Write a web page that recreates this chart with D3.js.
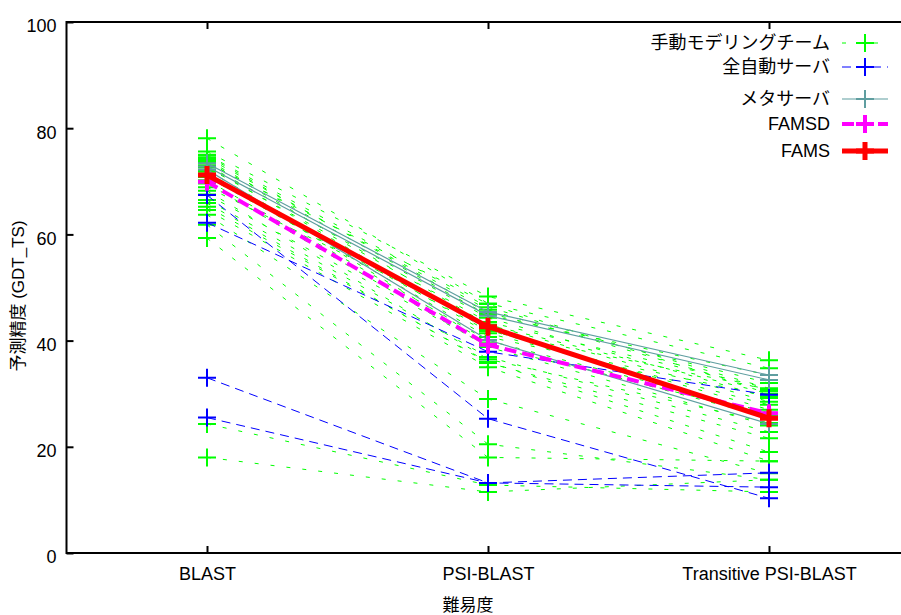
<!DOCTYPE html>
<html>
<head>
<meta charset="utf-8">
<script src="https://cdn.jsdelivr.net/npm/d3@7"></script>
<style>
  body { margin: 0; background: #fff; }
  text { font-family: "Liberation Sans", Arial, "Noto Sans CJK JP", sans-serif; }
</style>
</head>
<body>
<div id="graph"></div>
<script>
// categories on the x axis
var categories = ["BLAST", "PSI-BLAST", "Transitive PSI-BLAST"];
var yTicks = [0, 20, 40, 60, 80, 100];

// GDT_TS per group, one row = [BLAST, PSI-BLAST, Transitive]
var manualTeams = [
  [78.1, 47.0, 34.8],
  [75.6, 48.3, 36.3],
  [75.0, 46.3, 31.0],
  [74.8, 45.2, 32.0],
  [74.4, 45.8, 30.5],
  [74.0, 44.8, 33.5],
  [73.8, 43.0, 28.5],
  [73.5, 46.9, 30.0],
  [73.0, 44.3, 29.2],
  [72.9, 42.0, 27.0],
  [72.6, 43.5, 31.0],
  [72.1, 41.4, 27.9],
  [71.8, 39.5, 25.5],
  [71.2, 40.7, 29.5],
  [70.8, 41.8, 30.8],
  [70.2, 40.0, 26.4],
  [69.6, 38.8, 24.0],
  [68.9, 43.0, 30.0],
  [68.2, 36.5, 24.5],
  [67.5, 39.0, 26.0],
  [66.5, 36.9, 22.8],
  [65.9, 35.8, 21.6],
  [65.2, 36.0, 19.0],
  [64.6, 35.0, 17.3],
  [63.7, 29.0, 15.0],
  [61.8, 20.5, 13.8],
  [59.3, 18.0, 17.3],
  [24.3, 12.8, 11.5],
  [18.0, 11.5, 13.8]
];
var autoServers = [
  [67.4, 25.3, 10.3],
  [62.2, 37.9, 29.8],
  [33.0, 13.2, 15.1],
  [25.5, 13.2, 12.4]
];
var metaServers = [
  [73.4, 45.4, 33.5],
  [72.8, 44.7, 32.6],
  [72.2, 40.1, 24.3]
];
var famsd = [69.9, 39.2, 26.3];
var fams = [71.2, 42.6, 25.4];

var legendLabels = ["手動モデリングチーム", "全自動サーバ", "メタサーバ", "FAMSD", "FAMS"];

var width = 901;
var height = 615;
var plotLeft = 66.5, plotRight = 909.5, plotTop = 22, plotBottom = 553;

var svg = d3.select("#graph").
  append("svg").
  attr("width", width).
  attr("height", height);

var xScale = d3.scalePoint().
  domain(categories).
  range([plotLeft, plotRight]).
  padding(0.5);

var yScale = d3.scaleLinear().
  domain([0, 100]).
  range([plotBottom, plotTop]);

var styles = [
  { color: "#00ff00", width: 1, dash: "4,12", mw: 2 },
  { color: "#0000ff", width: 1, dash: "9,6", mw: 2 },
  { color: "#5f9ea0", width: 1.2, dash: null, mw: 2 },
  { color: "#ff00ff", width: 4, dash: "12,6", mw: 4 },
  { color: "#ff0000", width: 5, dash: null, mw: 5 }
];
var groups = [manualTeams, autoServers, metaServers, [famsd], [fams]];

var line = d3.line().
  x(function (d, i) {return xScale(categories[i]);}).
  y(function (d) {return yScale(d);});

var plus = "M-9,0H9M0,-9V9";

groups.forEach(function (rows, gi) {
  var st = styles[gi];
  var g = svg.append("g");
  rows.forEach(function (row) {
    g.append("path").
      attr("d", line(row)).
      attr("fill", "none").
      attr("stroke", st.color).
      attr("stroke-width", st.width).
      attr("stroke-dasharray", st.dash);
    g.selectAll(null).
      data(row).
      enter().
      append("path").
      attr("d", plus).
      attr("transform", function (d, i) {return "translate(" + xScale(categories[i]) + "," + yScale(d) + ")";}).
      attr("stroke", st.color).
      attr("stroke-width", st.mw).
      attr("fill", "none");
  });
});

// axes
var yAxis = d3.axisLeft(yScale).tickValues(yTicks).tickSize(-7).tickPadding(10);
var xAxis = d3.axisBottom(xScale).tickSize(-7).tickPadding(14.5);
var xTop = d3.axisTop(xScale).tickSize(-7).tickFormat("");

var ya = svg.append("g").attr("transform", "translate(" + plotLeft + ",0)").call(yAxis);
ya.selectAll("text").attr("dy", "0.55em").style("font-size", "18px");
var xa = svg.append("g").attr("transform", "translate(0," + plotBottom + ")").call(xAxis);
xa.selectAll("text").style("font-size", "18px");
svg.append("g").attr("transform", "translate(0," + plotTop + ")").call(xTop);

svg.selectAll(".domain").remove();
svg.selectAll(".tick line").attr("stroke", "#000").attr("stroke-width", 2);
svg.selectAll(".tick text").attr("fill", "#000");

svg.append("rect").
  attr("x", plotLeft).
  attr("y", plotTop).
  attr("width", plotRight - plotLeft).
  attr("height", plotBottom - plotTop).
  attr("fill", "none").
  attr("stroke", "#000").
  attr("stroke-width", 2);

// axis titles
svg.append("text").
  attr("transform", "translate(24," + 296 + ") rotate(-90)").
  style("text-anchor", "middle").
  style("font-size", "17px").
  text("予測精度 (GDT_TS)");

svg.append("text").
  attr("x", 468).
  attr("y", 611).
  style("text-anchor", "middle").
  style("font-size", "17px").
  text("難易度");

// legend
var legendY = [43, 67, 99, 124, 151];
var legend = svg.append("g").attr("id", "legend");
legendLabels.forEach(function (label, i) {
  var st = styles[i];
  legend.append("text").
    attr("x", 830).
    attr("y", legendY[i]).
    attr("dy", "0.35em").
    style("text-anchor", "end").
    style("font-size", "18px").
    text(label);
  legend.append("line").
    attr("x1", 842).
    attr("x2", 888).
    attr("y1", legendY[i]).
    attr("y2", legendY[i]).
    attr("stroke", st.color).
    attr("stroke-width", st.width).
    attr("stroke-dasharray", st.dash);
  legend.append("path").
    attr("d", plus).
    attr("transform", "translate(865," + legendY[i] + ")").
    attr("stroke", st.color).
    attr("stroke-width", st.mw).
    attr("fill", "none");
});
</script>
</body>
</html>
